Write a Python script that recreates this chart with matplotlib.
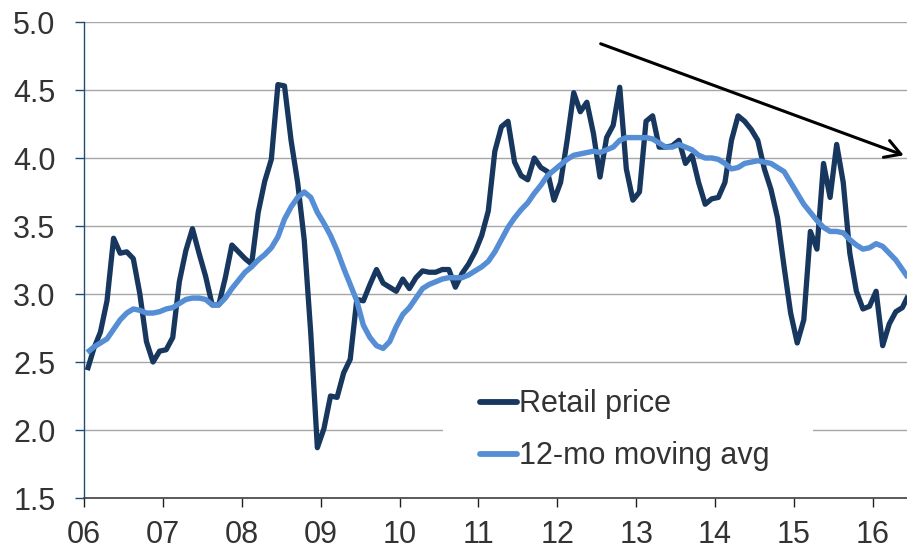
import matplotlib
matplotlib.use('Agg')
import matplotlib.pyplot as plt
from matplotlib.patches import Rectangle
import numpy as np

# ---- data (monthly, Jan 2006 - Jun 2016) ----
retail_price = [
    2.44, 2.60, 2.72, 2.95, 3.41, 3.30, 3.31, 3.26, 3.00, 2.65, 2.50, 2.58,  # 2006
    2.59, 2.68, 3.09, 3.32, 3.48, 3.30, 3.13, 2.92, 2.92, 3.12, 3.36, 3.31,  # 2007
    3.26, 3.22, 3.60, 3.83, 3.99, 4.54, 4.53, 4.13, 3.82, 3.40, 2.71, 1.87,  # 2008
    2.01, 2.25, 2.24, 2.42, 2.52, 2.96, 2.95, 3.07, 3.18, 3.08, 3.05, 3.02,  # 2009
    3.11, 3.04, 3.12, 3.17, 3.16, 3.16, 3.18, 3.18, 3.05, 3.15, 3.22, 3.31,  # 2010
    3.43, 3.61, 4.05, 4.23, 4.27, 3.97, 3.87, 3.84, 4.00, 3.93, 3.90, 3.69,  # 2011
    3.82, 4.13, 4.48, 4.34, 4.41, 4.18, 3.86, 4.15, 4.24, 4.52, 3.92, 3.69,  # 2012
    3.75, 4.27, 4.31, 4.08, 4.08, 4.09, 4.13, 3.96, 4.02, 3.82, 3.66, 3.70,  # 2013
    3.71, 3.82, 4.13, 4.31, 4.27, 4.21, 4.13, 3.92, 3.77, 3.56, 3.20, 2.86,  # 2014
    2.64, 2.81, 3.46, 3.33, 3.96, 3.71, 4.10, 3.82, 3.30, 3.02, 2.89, 2.91,  # 2015
    3.02, 2.62, 2.78, 2.87, 2.90, 3.00,                                      # 2016
]
moving_avg = [
    2.57, 2.61, 2.64, 2.67, 2.74, 2.81, 2.86, 2.89, 2.88, 2.86, 2.86, 2.87,
    2.89, 2.90, 2.93, 2.96, 2.97, 2.97, 2.96, 2.92, 2.92, 2.97, 3.04, 3.10,
    3.16, 3.20, 3.25, 3.29, 3.34, 3.42, 3.55, 3.64, 3.71, 3.75, 3.71, 3.60,
    3.52, 3.43, 3.32, 3.19, 3.07, 2.95, 2.77, 2.68, 2.62, 2.60, 2.65, 2.76,
    2.85, 2.90, 2.97, 3.04, 3.07, 3.09, 3.11, 3.12, 3.12, 3.12, 3.14, 3.17,
    3.20, 3.24, 3.31, 3.40, 3.49, 3.56, 3.62, 3.67, 3.74, 3.80, 3.87, 3.91,
    3.95, 3.99, 4.02, 4.03, 4.04, 4.05, 4.04, 4.06, 4.08, 4.13, 4.15, 4.15,
    4.15, 4.15, 4.14, 4.11, 4.08, 4.08, 4.10, 4.08, 4.06, 4.02, 4.00, 4.00,
    3.99, 3.96, 3.92, 3.93, 3.96, 3.97, 3.98, 3.97, 3.96, 3.93, 3.90, 3.82,
    3.74, 3.66, 3.60, 3.54, 3.49, 3.46, 3.46, 3.45, 3.40, 3.36, 3.33, 3.34,
    3.37, 3.35, 3.30, 3.25, 3.18, 3.11,
]
year_labels = ['06', '07', '08', '09', '10', '11', '12', '13', '14', '15', '16']
y_ticks = [1.5, 2.0, 2.5, 3.0, 3.5, 4.0, 4.5, 5.0]
series_names = ['Retail price', '12-mo moving avg']
# trend arrow (months since Jan 2006, value)
arrow_start = (78.6, 4.84)
arrow_end = (124.7, 4.02)

plt.rcParams['font.family'] = ['Liberation Sans', 'DejaVu Sans']

W, H = 907, 551
fig = plt.figure(figsize=(W / 100, H / 100), dpi=100)
ax = fig.add_axes([84 / W, 53 / H, 823 / W, 476 / H])

months = np.arange(len(retail_price)) + 0.5
l1, = ax.plot(months, retail_price, color='#17375E', lw=3.8, zorder=3,
              solid_joinstyle='round', solid_capstyle='butt')
l2, = ax.plot(months, moving_avg, color='#558ED5', lw=3.9, zorder=4,
              solid_joinstyle='round', solid_capstyle='butt')

ax.set_xlim(0, 125.2)
ax.set_ylim(1.5, 5.0)
ax.set_xticks(np.arange(len(year_labels)) * 12)
ax.set_xticklabels(year_labels)
ax.set_yticks(y_ticks)
ax.set_yticklabels([f'{v:.1f}' for v in y_ticks])

ax.set_axisbelow(True)
ax.yaxis.grid(True, color='#A6A6A6', lw=1.0)
ax.xaxis.grid(False)

for s in ['top', 'right']:
    ax.spines[s].set_visible(False)
ax.spines['left'].set_color('#1F4E79')
ax.spines['left'].set_linewidth(1.0)
ax.spines['bottom'].set_color('#404040')
ax.spines['bottom'].set_linewidth(1.2)

ax.tick_params(axis='y', direction='out', length=6.5, width=1.0, color='#1F4E79',
               labelsize=22, labelcolor='#333333', pad=14)
ax.tick_params(axis='x', direction='out', length=6.5, width=1.0, color='#202020',
               labelsize=22, labelcolor='#333333', pad=9)

# white legend background (interrupts gridline)
ax.add_patch(Rectangle((0.4362, 0.048), 0.4496, 0.20, transform=ax.transAxes,
                       facecolor='white', edgecolor='none', zorder=1))

leg = ax.legend([l1, l2], series_names, loc='upper left',
                bbox_to_anchor=(0.4812, 0.228), frameon=False, fontsize=22,
                handlelength=1.2, handletextpad=0.08, labelspacing=0.72,
                borderpad=0, borderaxespad=0)
for t in leg.get_texts():
    t.set_color('#333333')
for h in leg.legend_handles:
    h.set_linewidth(4.2)
    h.set_solid_capstyle('round')

ax.annotate('', xy=arrow_end, xytext=arrow_start,
            arrowprops=dict(arrowstyle='->,head_length=0.55,head_width=0.32',
                            color='black', lw=2.2, mutation_scale=20,
                            shrinkA=0, shrinkB=0),
            annotation_clip=False, zorder=6)

fig.savefig('out.png', dpi=100)
